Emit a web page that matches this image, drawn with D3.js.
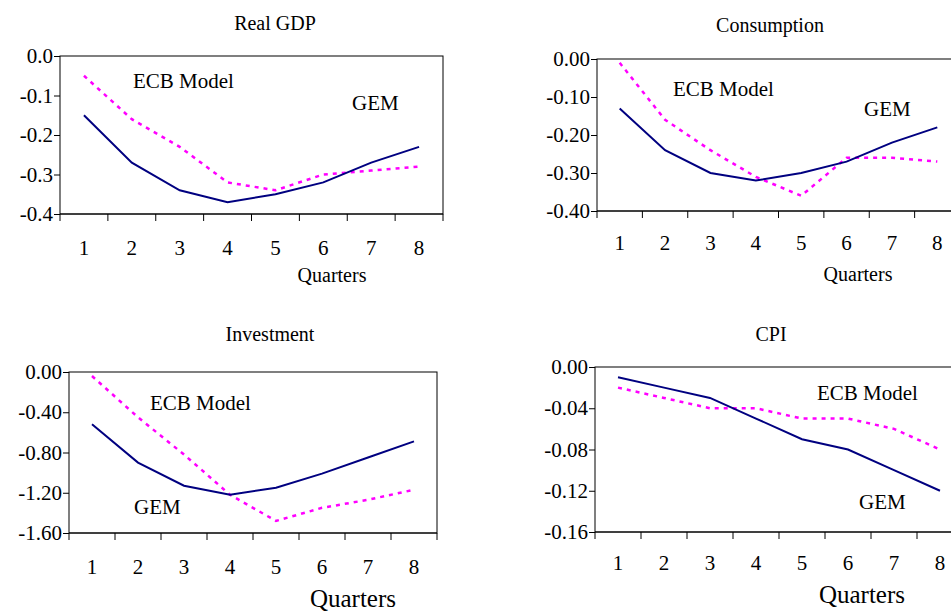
<!DOCTYPE html>
<html><head><meta charset="utf-8">
<script src="https://cdn.jsdelivr.net/npm/d3@7"></script>
<style>body{margin:0;background:#fff}</style>
</head><body><svg id="c" width="951" height="611"></svg>
<script>
const quarters = ["1","2","3","4","5","6","7","8"];
const gdpGEM = [-0.15,-0.27,-0.34,-0.37,-0.35,-0.32,-0.27,-0.23];
const gdpECB = [-0.05,-0.16,-0.23,-0.32,-0.34,-0.30,-0.29,-0.28];
const conGEM = [-0.13,-0.24,-0.30,-0.32,-0.30,-0.27,-0.22,-0.18];
const conECB = [-0.01,-0.16,-0.24,-0.31,-0.36,-0.26,-0.26,-0.27];
const invGEM = [-0.52,-0.90,-1.13,-1.22,-1.15,-1.01,-0.85,-0.69];
const invECB = [-0.04,-0.45,-0.82,-1.22,-1.48,-1.35,-1.27,-1.17];
const cpiGEM = [-0.01,-0.02,-0.03,-0.05,-0.07,-0.08,-0.10,-0.12];
const cpiECB = [-0.02,-0.03,-0.04,-0.04,-0.05,-0.05,-0.06,-0.08];

const FONT = "'Times New Roman', 'Liberation Serif', 'DejaVu Serif', serif";
const SVG = d3.select('#c');

const panels = [
  {title:"Real GDP", tx:275, ty:30, l:60, r:443, t:56, b:214, dom:[-0.4,0], ticks:[0,-0.1,-0.2,-0.3,-0.4], fmt:".1f",
   gem:gdpGEM, ecb:gdpECB, lab:255, qx:332, qy:282, qsize:20,
   ecbLab:[133,88], gemLab:[352,110]},
  {title:"Consumption", tx:770, ty:32, l:597, r:960, t:59, b:211, dom:[-0.4,0], ticks:[0,-0.1,-0.2,-0.3,-0.4], fmt:".2f",
   gem:conGEM, ecb:conECB, lab:250, qx:858, qy:281, qsize:20,
   ecbLab:[673,96], gemLab:[864,116]},
  {title:"Investment", tx:270, ty:341, l:69, r:437, t:372, b:533, dom:[-1.6,0], ticks:[0,-0.4,-0.8,-1.2,-1.6], fmt:".2f",
   gem:invGEM, ecb:invECB, lab:574, qx:353, qy:607, qsize:25,
   ecbLab:[150,410], gemLab:[134,514]},
  {title:"CPI", tx:771, ty:341, l:595, r:963, t:367, b:532, dom:[-0.16,0], ticks:[0,-0.04,-0.08,-0.12,-0.16], fmt:".2f",
   gem:cpiGEM, ecb:cpiECB, lab:570, qx:862, qy:603, qsize:25,
   ecbLab:[817,400], gemLab:[859,509]}
];

panels.forEach(p => {
  const x = d3.scaleBand().domain(quarters).range([p.l, p.r]);
  const y = d3.scaleLinear().domain(p.dom).range([p.b, p.t]);
  const g = SVG.append('g').attr('font-family', FONT);
  const fmt = d3.format(p.fmt);

  g.append('text').attr('x', p.tx).attr('y', p.ty).attr('text-anchor','middle')
    .style('font-size','20px').text(p.title);

  // frame
  g.append('rect').attr('x', p.l).attr('y', p.t).attr('width', p.r-p.l).attr('height', p.b-p.t)
    .attr('fill','none').attr('stroke','#000').attr('stroke-width',1);

  // y axis
  const ya = g.append('g').attr('transform',`translate(${p.l},0)`)
    .call(d3.axisLeft(y).tickValues(p.ticks).tickSize(6).tickFormat(d => fmt(d).replace('\u2212','-')));
  ya.select('.domain').remove();
  ya.attr('font-family', FONT);
  ya.selectAll('text').style('font-size','21px').attr('fill','#000').attr('x',-7);

  // x axis: ticks at band boundaries
  const bounds = quarters.map(q => x(q)).concat([p.r]);
  g.append('line').attr('x1',p.l).attr('x2',p.r).attr('y1',p.b).attr('y2',p.b).attr('stroke','#000');
  g.selectAll('.xt').data(bounds).join('line')
    .attr('x1',d=>d).attr('x2',d=>d).attr('y1',p.b).attr('y2',p.b+7).attr('stroke','#000');
  g.selectAll('.xl').data(quarters).join('text')
    .attr('x', d => x(d)+x.bandwidth()/2).attr('y', p.lab).attr('text-anchor','middle')
    .style('font-size','21px').text(d=>d);
  g.append('text').attr('x',p.qx).attr('y',p.qy).attr('text-anchor','middle')
    .style('font-size',p.qsize+'px').text('Quarters');

  const line = d3.line().x((d,i)=>x(quarters[i])+x.bandwidth()/2).y(d=>y(d));
  g.append('path').attr('d', line(p.ecb)).attr('fill','none')
    .attr('stroke','#ff00ff').attr('stroke-width',2.5).attr('stroke-dasharray','4,5');
  g.append('path').attr('d', line(p.gem)).attr('fill','none')
    .attr('stroke','#000080').attr('stroke-width',2);

  g.append('text').attr('x',p.ecbLab[0]).attr('y',p.ecbLab[1]).style('font-size','21px').text('ECB Model');
  g.append('text').attr('x',p.gemLab[0]).attr('y',p.gemLab[1]).style('font-size','21px').text('GEM');
});
</script></body></html>
